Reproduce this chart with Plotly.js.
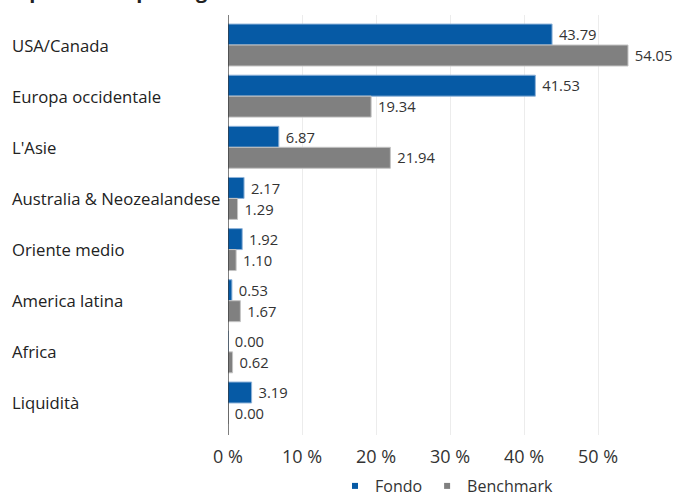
<!DOCTYPE html>
<html>
<head>
<meta charset="utf-8">
<script src="https://cdn.plot.ly/plotly-3.0.1.min.js"></script>
<style>html,body{margin:0;padding:0;background:#fff;}#chart{width:675px;height:496px;}</style>
</head>
<body>
<div id="chart"></div>
<script>
var categories = ["USA/Canada", "Europa occidentale", "L'Asie", "Australia & Neozealandese", "Oriente medio", "America latina", "Africa", "Liquidità"];
var fondo = [43.79, 41.53, 6.87, 2.17, 1.92, 0.53, 0.00, 3.19];
var benchmark = [54.05, 19.34, 21.94, 1.29, 1.10, 1.67, 0.62, 0.00];
var seriesNames = ["Fondo", "Benchmark"];
var xTicks = [0, 10, 20, 30, 40, 50];
var chartTitle = "Ripartizione per regione";

var FONT = "Open Sans, Noto Sans, sans-serif";
var BLUE = "#065aa5";
var GREY = "#808080";

var traces = [
  {
    type: "bar", orientation: "h", name: seriesNames[0], legendgroup: "f", showlegend: false,
    y: categories, x: fondo,
    marker: {color: BLUE, line: {color: "#8fb3d9", width: 1}},
    texttemplate: "\u00a0%{x:.2f}", textposition: "outside", cliponaxis: false,
    textfont: {family: FONT, size: 15.5, color: "#333"}, hoverinfo: "x+y"
  },
  {
    type: "bar", orientation: "h", name: seriesNames[1], legendgroup: "b", showlegend: false,
    y: categories, x: benchmark,
    marker: {color: GREY, line: {color: "#c4c4c4", width: 1}},
    texttemplate: "\u00a0%{x:.2f}", textposition: "outside", cliponaxis: false,
    textfont: {family: FONT, size: 15.5, color: "#333"}, hoverinfo: "x+y"
  },
  {
    type: "scatter", mode: "markers", name: seriesNames[0], legendgroup: "f",
    x: [null], y: [null], marker: {symbol: "square", size: 6, color: BLUE}, hoverinfo: "skip"
  },
  {
    type: "scatter", mode: "markers", name: seriesNames[1], legendgroup: "b",
    x: [null], y: [null], marker: {symbol: "square", size: 6, color: GREY}, hoverinfo: "skip"
  }
];

var annotations = categories.map(function (c) {
  return {
    xref: "paper", yref: "y", x: -(228 - 11) / 437, y: c, xanchor: "left", yanchor: "middle",
    text: c, showarrow: false, borderpad: 0,
    font: {family: FONT, size: 16.7, color: "#222"}
  };
});
annotations.push({
  xref: "paper", yref: "paper", x: -(228 - 9) / 437, y: 1 + (15 - 5) / 420,
  xanchor: "left", yanchor: "bottom", text: "<b>" + chartTitle + "</b>",
  showarrow: false, borderpad: 0, font: {family: FONT, size: 20, color: "#222"}
});

var layout = {
  width: 675, height: 496,
  margin: {l: 228, r: 10, t: 15, b: 61},
  paper_bgcolor: "#fff", plot_bgcolor: "#fff",
  font: {family: FONT, color: "#333"},
  barmode: "group", bargap: 0.18, bargroupgap: 0,
  xaxis: {
    range: [0, 59.05], tickvals: xTicks, ticktext: xTicks.map(function (v) { return v + " %"; }),
    showgrid: true, gridcolor: "#ececec", gridwidth: 1, zeroline: false,
    showline: false, ticks: "", ticklabelstandoff: 9,
    tickfont: {family: FONT, size: 18, color: "#333"}
  },
  yaxis: {
    type: "category", categoryorder: "array", categoryarray: categories,
    range: [7.626, -0.587], showticklabels: false, showgrid: false, zeroline: false,
    showline: false, ticks: ""
  },
  shapes: [{
    type: "line", xref: "x", yref: "paper", x0: 0, x1: 0, y0: 0, y1: 1,
    line: {color: "#000", width: 1}
  }],
  annotations: annotations,
  legend: {
    orientation: "h", xref: "paper", x: 0.5, xanchor: "center",
    yref: "container", y: 1 - 486 / 496, yanchor: "middle",
    font: {family: FONT, size: 16, color: "#333"}, itemwidth: 30
  },
  showlegend: true
};

Plotly.newPlot("chart", traces, layout, {displayModeBar: false, staticPlot: true});
</script>
</body>
</html>
